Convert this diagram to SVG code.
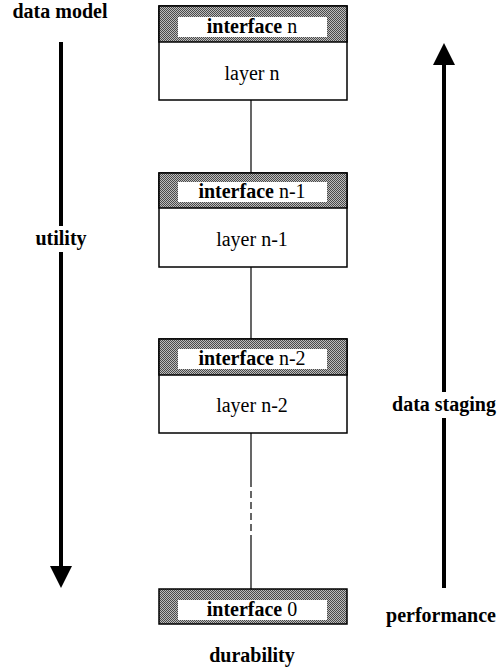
<svg xmlns="http://www.w3.org/2000/svg" width="499" height="671" viewBox="0 0 499 671" font-family="'Liberation Serif', 'Times New Roman', 'DejaVu Serif', serif">
<style>
.box{fill:#fff;stroke:#000;stroke-width:1.5}
.band{fill:url(#dots);stroke:#000;stroke-width:1.5}
.win{fill:#fff;stroke:none}
text{font-family:'Liberation Serif','Times New Roman','DejaVu Serif',serif;font-size:20px;fill:#000;text-anchor:middle}
.b{font-weight:bold}
.conn{stroke:#000;stroke-width:1.2;fill:none}
.arr{stroke:#000;stroke-width:4;fill:none}
.head{fill:#000}
</style>
<defs>
<pattern id="dots" width="2" height="2" patternUnits="userSpaceOnUse">
<rect width="2" height="2" fill="#bdbdbd"/>
<rect width="1" height="1" fill="#4a4a4a"/>
<rect x="1" y="1" width="1" height="1" fill="#4a4a4a"/>
</pattern>
</defs>
<g id="connectors">
<line class="conn" x1="251" y1="100" x2="251" y2="173"/>
<line class="conn" x1="251" y1="267" x2="251" y2="339"/>
<line class="conn" x1="251" y1="433" x2="251" y2="480"/>
<line class="conn" x1="251" y1="480" x2="251" y2="540" stroke-dasharray="7,4"/>
<line class="conn" x1="251" y1="540" x2="251" y2="589"/>
</g>
<g id="layer-n">
<rect class="box" x="159" y="6" width="188" height="94"/>
<rect class="band" x="159" y="6" width="188" height="36"/>
<rect class="win" x="178" y="17" width="149" height="20"/>
<text x="252" y="33"><tspan class="b">interface</tspan> n</text>
<text x="252" y="80">layer n</text>
</g>
<g id="layer-n-1">
<rect class="box" x="159" y="173" width="188" height="94"/>
<rect class="band" x="159" y="173" width="188" height="35"/>
<rect class="win" x="178" y="182" width="149" height="20"/>
<text x="252" y="198"><tspan class="b">interface</tspan> n-1</text>
<text x="252" y="246">layer n-1</text>
</g>
<g id="layer-n-2">
<rect class="box" x="159" y="339" width="188" height="94"/>
<rect class="band" x="159" y="339" width="188" height="36"/>
<rect class="win" x="178" y="349" width="149" height="20"/>
<text x="252" y="365"><tspan class="b">interface</tspan> n-2</text>
<text x="252" y="412">layer n-2</text>
</g>
<g id="interface-0">
<rect class="band" x="159" y="589" width="188" height="35"/>
<rect class="win" x="178" y="600" width="149" height="20"/>
<text x="252" y="616"><tspan class="b">interface</tspan> 0</text>
</g>
<g id="left-arrow">
<line class="arr" x1="61" y1="42" x2="61" y2="566"/>
<polygon class="head" points="50,566 72,566 61,588"/>
<rect x="30" y="226" width="62" height="26" fill="#fff"/>
<text class="b" x="61" y="245">utility</text>
<text class="b" x="60" y="18">data model</text>
</g>
<g id="right-arrow">
<line class="arr" x1="444" y1="588" x2="444" y2="64"/>
<polygon class="head" points="433,65 455,65 444,43"/>
<rect x="388" y="392" width="111" height="26" fill="#fff"/>
<text class="b" x="444" y="411">data staging</text>
<text class="b" x="441" y="622">performance</text>
</g>
<g id="bottom-label">
<text class="b" x="252" y="662">durability</text>
</g>
</svg>
